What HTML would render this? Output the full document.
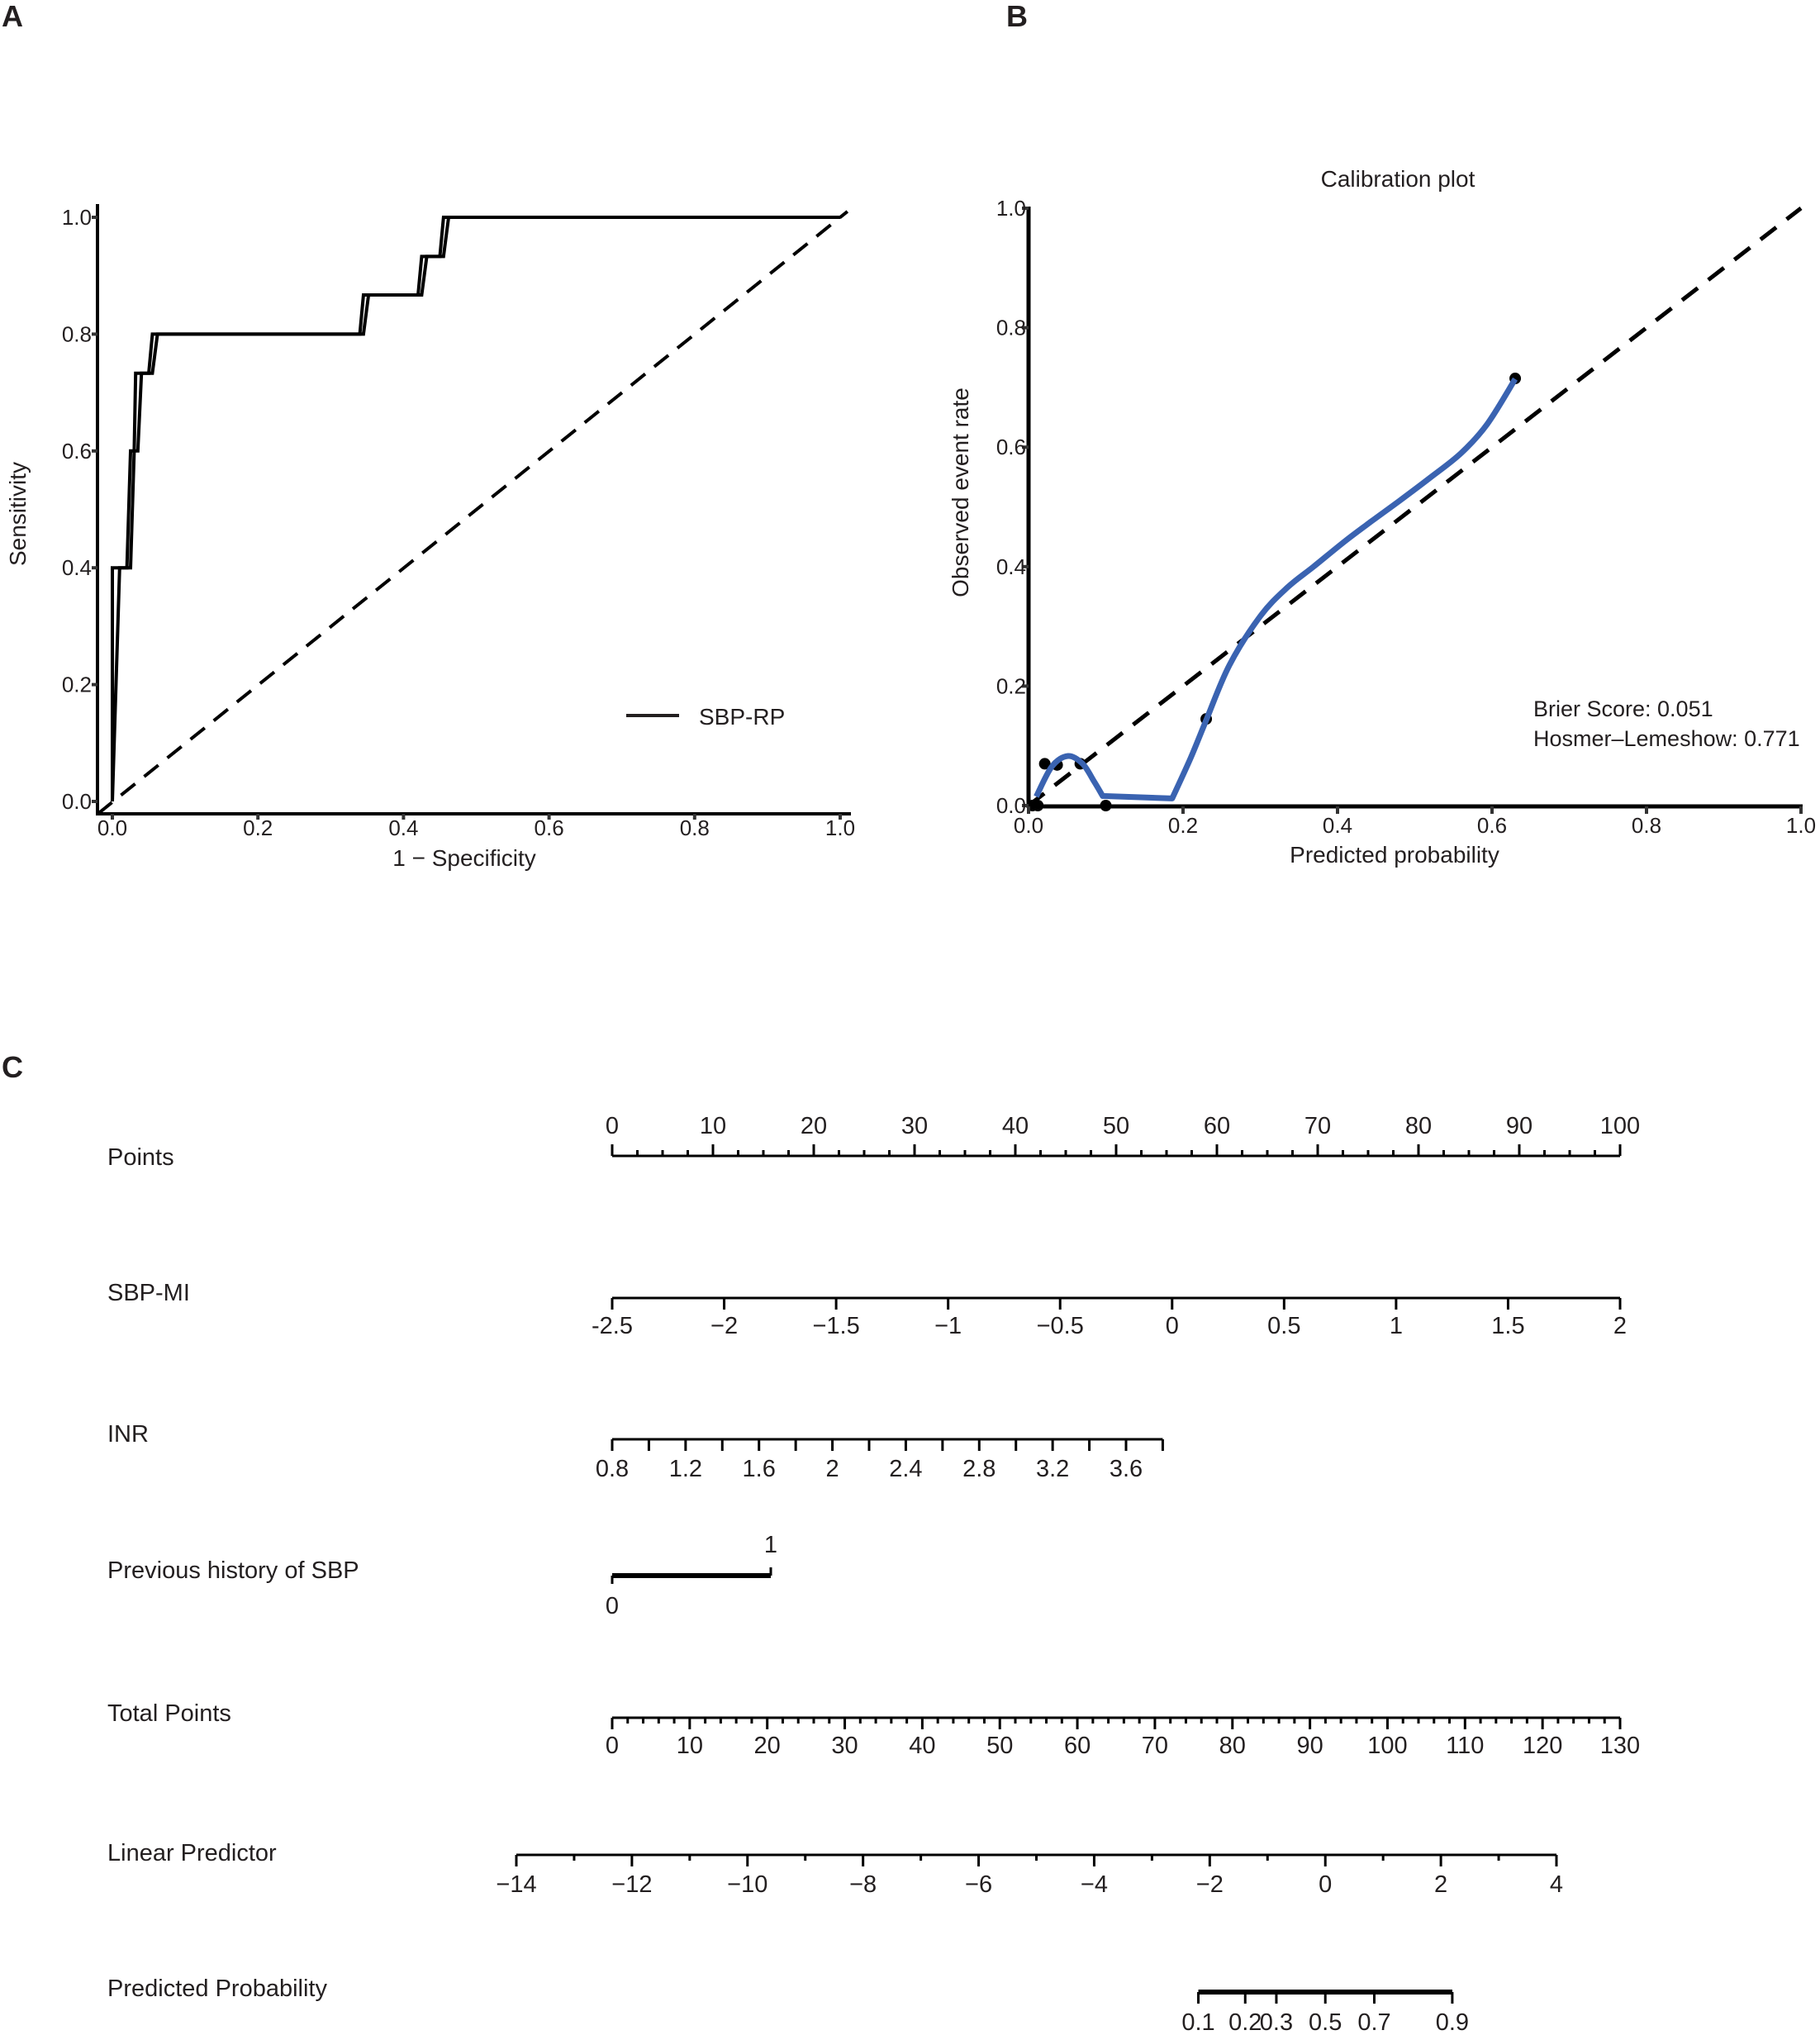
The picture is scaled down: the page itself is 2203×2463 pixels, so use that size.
<!DOCTYPE html>
<html><head><meta charset="utf-8"><style>
html,body{margin:0;padding:0;background:#fff;}
svg{display:block;font-family:"Liberation Sans",Arial,sans-serif;}
</style></head><body>
<svg id="fig" width="2203" height="2463" viewBox="0 0 2203 2463" xmlns="http://www.w3.org/2000/svg">
<rect width="2203" height="2463" fill="#fff"/>
<text x="2" y="32" font-size="36" font-weight="bold" fill="#231f20">A</text>
<text x="1218" y="32" font-size="36" font-weight="bold" fill="#231f20">B</text>
<text x="2" y="1304" font-size="36" font-weight="bold" fill="#231f20">C</text>
<g id="pa"></g>
<g id="pb"></g>
<g id="pc"></g>
</svg>
<script>
// ROC data
const rocFprA=[0,0,0.02,0.025,0.03,0.032,0.05,0.055,0.34,0.345,0.42,0.425,0.45,0.455,1];
const rocTprA=[0,0.4,0.4,0.6,0.6,0.733,0.733,0.8,0.8,0.867,0.867,0.933,0.933,1,1];
const rocFprB=[0,0.01,0.025,0.03,0.035,0.04,0.055,0.062,0.345,0.352,0.425,0.432,0.455,0.462,1];
const rocTprB=[0,0.4,0.4,0.6,0.6,0.733,0.733,0.8,0.8,0.867,0.867,0.933,0.933,1,1];
const rocTicks=[0,0.2,0.4,0.6,0.8,1.0];
// Calibration data
const calCurveX=[0.01,0.03,0.051,0.07,0.085,0.096,0.186,0.21,0.23,0.26,0.30,0.335,0.369,0.41,0.444,0.48,0.519,0.56,0.594,0.63];
const calCurveY=[0.015,0.065,0.083,0.07,0.04,0.016,0.012,0.08,0.143,0.235,0.317,0.365,0.400,0.443,0.476,0.51,0.548,0.59,0.639,0.714];
const calPtX=[0.005,0.012,0.021,0.037,0.067,0.1,0.23,0.63];
const calPtY=[0,0,0.07,0.068,0.07,0,0.145,0.715];
const calTicks=[0,0.2,0.4,0.6,0.8,1.0];
// Nomogram scales
const pointsTicks=[0,10,20,30,40,50,60,70,80,90,100];
const sbpmiTicks=[-2.5,-2,-1.5,-1,-0.5,0,0.5,1,1.5,2];
const inrTicks=[0.8,1.2,1.6,2,2.4,2.8,3.2,3.6];
const totalTicks=[0,10,20,30,40,50,60,70,80,90,100,110,120,130];
const lpTicks=[-14,-12,-10,-8,-6,-4,-2,0,2,4];
const probTicks=[0.1,0.2,0.3,0.5,0.7,0.9];

const NS="http://www.w3.org/2000/svg";
function mk(parent,tag,attrs,text){const e=document.createElementNS(NS,tag);for(const k in attrs)e.setAttribute(k,attrs[k]);if(text!==undefined)e.textContent=text;parent.appendChild(e);return e;}
const C="#231f20";

// ---------- Panel A ----------
(function(){
const g=document.getElementById('pa');
const X0=136,X1=1017,Y0=970,Y1=263;
const sx=v=>X0+(X1-X0)*v, sy=v=>Y0-(Y0-Y1)*v;
let l=mk(g,'line',{x1:sx(-0.02),y1:985,x2:sx(1.01),y2:sy(1.01),stroke:'#000','stroke-width':4,'stroke-dasharray':'22,14'});

let p=mk(g,'polyline',{points:rocFprB.map((v,i)=>sx(v)+','+sy(rocTprB[i])).join(' '),fill:'none',stroke:'#000','stroke-width':4});

p=mk(g,'polyline',{points:rocFprA.map((v,i)=>sx(v)+','+sy(rocTprA[i])).join(' '),fill:'none',stroke:'#000','stroke-width':4});

l=mk(g,'line',{x1:118,y1:247,x2:118,y2:987,stroke:'#000','stroke-width':4});

l=mk(g,'line',{x1:116,y1:985,x2:1030,y2:985,stroke:'#000','stroke-width':4});

rocTicks.forEach(v=>{
 mk(g,'line',{x1:sx(v),y1:985,x2:sx(v),y2:992,stroke:'#333','stroke-width':4});
 let t=mk(g,'text',{x:sx(v),y:1011,'font-size':26,'text-anchor':'middle',fill:C},v.toFixed(1));
 
 mk(g,'line',{x1:111,y1:sy(v),x2:118,y2:sy(v),stroke:'#333','stroke-width':4});
 t=mk(g,'text',{x:111,y:sy(v)+9,'font-size':26,'text-anchor':'end',fill:C},v.toFixed(1));
 
});
let t=mk(g,'text',{x:562,y:1048,'font-size':28,'text-anchor':'middle',fill:C},'1 − Specificity');

t=mk(g,'text',{x:0,y:0,'font-size':28,'text-anchor':'middle',fill:C,transform:'translate(31,622) rotate(-90)'},'Sensitivity');

l=mk(g,'line',{x1:758,y1:866,x2:822,y2:866,stroke:'#231f20','stroke-width':4});

t=mk(g,'text',{x:846,y:877,'font-size':28,fill:C},'SBP-RP');

})();

// ---------- Panel B ----------
(function(){
const g=document.getElementById('pb');
const X0=1245,X1=2180,Y0=975,Y1=252;
const sx=v=>X0+(X1-X0)*v, sy=v=>Y0-(Y0-Y1)*v;
let l=mk(g,'line',{x1:sx(0),y1:sy(0),x2:sx(1),y2:sy(1),stroke:'#000','stroke-width':5,'stroke-dasharray':'24,16'});

calPtX.forEach((v,i)=>{let c=mk(g,'circle',{cx:sx(v),cy:sy(calPtY[i]),r:7,fill:'#000'});
 });
const P=calCurveX.map((v,i)=>[sx(v),sy(calCurveY[i])]);
// find flat segment (largest x gap) and keep it straight
let gapI=0,gapW=0;for(let i=0;i<P.length-1;i++){const w=P[i+1][0]-P[i][0];if(w>gapW){gapW=w;gapI=i;}}
function smooth(Q){let s='';for(let i=0;i<Q.length-1;i++){
 const p0=Q[Math.max(0,i-1)],p1=Q[i],p2=Q[i+1],p3=Q[Math.min(Q.length-1,i+2)];
 const c1=[p1[0]+(p2[0]-p0[0])/6,p1[1]+(p2[1]-p0[1])/6];
 const c2=[p2[0]-(p3[0]-p1[0])/6,p2[1]-(p3[1]-p1[1])/6];
 s+=' C'+c1[0]+','+c1[1]+' '+c2[0]+','+c2[1]+' '+p2[0]+','+p2[1];}return s;}
let d='M'+P[0][0]+','+P[0][1]+smooth(P.slice(0,gapI+1))+' L'+P[gapI+1][0]+','+P[gapI+1][1]+smooth(P.slice(gapI+1));
let p=mk(g,'path',{d:d,fill:'none',stroke:'#3a63b1','stroke-width':7,'stroke-linejoin':'round'});

l=mk(g,'line',{x1:X0,y1:250,x2:X0,y2:978,stroke:'#000','stroke-width':5});

l=mk(g,'line',{x1:X0-2,y1:976,x2:X1+2,y2:976,stroke:'#000','stroke-width':5});

calTicks.forEach(v=>{
 mk(g,'line',{x1:sx(v),y1:976,x2:sx(v),y2:985,stroke:'#333','stroke-width':4});
 let t=mk(g,'text',{x:sx(v),y:1008,'font-size':26,'text-anchor':'middle',fill:C},v.toFixed(1));
 
 mk(g,'line',{x1:X0-8,y1:sy(v),x2:X0,y2:sy(v),stroke:'#333','stroke-width':4});
 t=mk(g,'text',{x:X0-3,y:sy(v)+9,'font-size':26,'text-anchor':'end',fill:C},v.toFixed(1));
 
});
let t=mk(g,'text',{x:1692,y:226,'font-size':28,'text-anchor':'middle',fill:C},'Calibration plot');

t=mk(g,'text',{x:1688,y:1044,'font-size':28,'text-anchor':'middle',fill:C},'Predicted probability');

t=mk(g,'text',{x:0,y:0,'font-size':28,'text-anchor':'middle',fill:C,transform:'translate(1172,596) rotate(-90)'},'Observed event rate');

t=mk(g,'text',{x:1856,y:867,'font-size':27,fill:C},'Brier Score: 0.051');

t=mk(g,'text',{x:1856,y:903,'font-size':27,fill:C},'Hosmer–Lemeshow: 0.771');

})();

// ---------- Panel C ----------
(function(){
const g=document.getElementById('pc');
const FS=29;
function label(txt,y,name){let t=mk(g,'text',{x:130,y:y+10,'font-size':FS,fill:C},txt);
 }
function axis(y,xa,xb,w,name){let l=mk(g,'line',{x1:xa,y1:y,x2:xb,y2:y,stroke:'#000','stroke-width':w});
 }
function tick(x,y,len){mk(g,'line',{x1:x,y1:y,x2:x,y2:y+len,stroke:'#000','stroke-width':3});}
function tl(x,y,s,name){let t=mk(g,'text',{x:x,y:y,'font-size':FS,'text-anchor':'middle',fill:C},s);
 }
const minus=v=>String(v).replace('-','−');
// Points
const px=v=>741+(1961-741)*v/100;
label('Points',1400,'points-label');
axis(1399,741,1961,3,'points-axis');
for(let v=0;v<=100;v+=2.5){tick(px(v),1399,(v%10===0)?-14:-7);}
pointsTicks.forEach(v=>tl(px(v),1372,String(v),'points-tick-label'));
// SBP-MI
const sm=v=>741+(1961-741)*(v+2.5)/4.5;
label('SBP-MI',1564,'sbp-mi-label');
axis(1571,741,1961,3,'sbp-mi-axis');
sbpmiTicks.forEach(v=>{tick(sm(v),1571,14);tl(sm(v),1614,v===-2.5?'-2.5':minus(v),'sbp-mi-tick-label');});
// INR
const ix=v=>741+(1363-741)*(v-0.8)/2.8;
label('INR',1735,'inr-label');
axis(1742,741,ix(3.8),3,'inr-axis');
for(let k=0;k<=15;k++){tick(ix(0.8+k*0.2),1742,14);}
inrTicks.forEach(v=>tl(ix(v),1787,String(v),'inr-tick-label'));
// Previous history
label('Previous history of SBP',1900,'previous-history-label');
axis(1907,741,933,6,'previous-history-axis');
tick(741,1907,10);tick(933,1907,-10);
tl(933,1879,'1','previous-history-tick-1');tl(741,1953,'0','previous-history-tick-0');
// Total points
const tx=v=>741+(1961-741)*v/130;
label('Total Points',2073,'total-points-label');
axis(2079,741,1961,3,'total-points-axis');
for(let v=0;v<=130;v+=2){tick(tx(v),2079,(v%10===0)?14:7);}
totalTicks.forEach(v=>tl(tx(v),2122,String(v),'total-points-tick-label'));
// Linear predictor
const lx=v=>625+(1884-625)*(v+14)/18;
label('Linear Predictor',2242,'linear-predictor-label');
axis(2245,625,1884,3,'linear-predictor-axis');
for(let v=-14;v<=4;v++){tick(lx(v),2245,(v%2===0)?14:7);}
lpTicks.forEach(v=>tl(lx(v),2290,minus(v),'linear-predictor-tick-label'));
// Predicted probability
const ppx=p=>lx(Math.log(p/(1-p)));
label('Predicted Probability',2406,'predicted-probability-label');
axis(2411,ppx(0.1),ppx(0.9),6,'predicted-probability-axis');
probTicks.forEach(v=>{tick(ppx(v),2411,14);tl(ppx(v),2457,String(v),'predicted-probability-tick-label');});
})();
</script>
</body></html>
